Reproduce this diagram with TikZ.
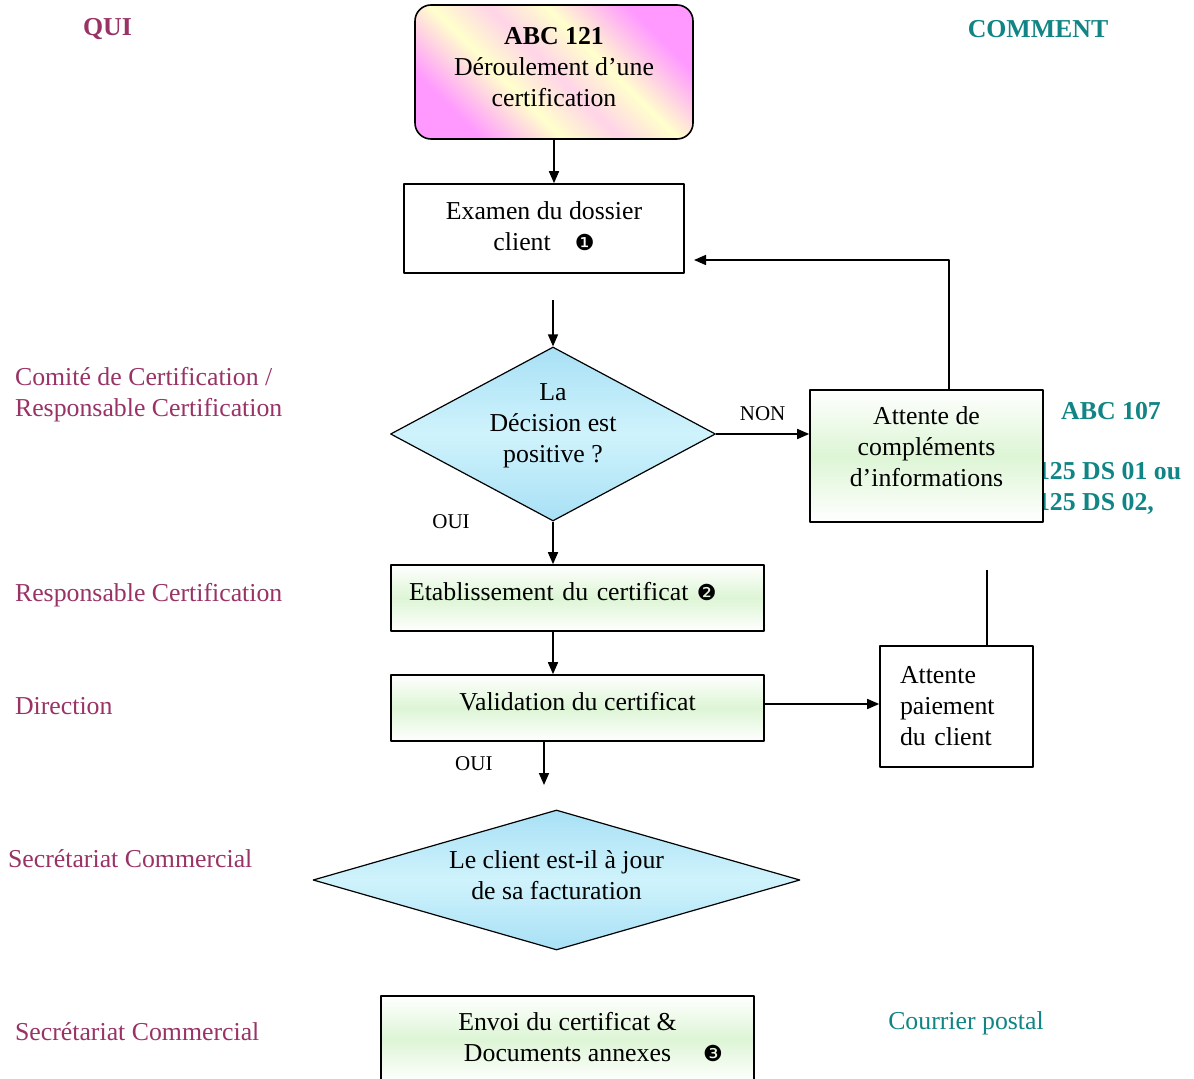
\documentclass[tikz,border=0pt]{standalone}
\usepackage{fontspec}
\setmainfont{Liberation Serif}
\newfontfamily\dingfont{DejaVu Sans}
\usetikzlibrary{shapes.geometric,arrows.meta,positioning}
\definecolor{qui}{HTML}{993366}
\definecolor{comment}{HTML}{118585}
\definecolor{titleyellow}{HTML}{FFFFCC}
\definecolor{titlepink}{HTML}{FFD4E8}
\definecolor{titlemag}{HTML}{FF99FF}
\definecolor{stepgreen}{HTML}{DDF5D5}
\definecolor{askblue}{HTML}{A8E0F5}
\definecolor{askpale}{HTML}{CFF3FC}
\pgfdeclarehorizontalshading{titleshade}{100bp}{color(0bp)=(titlemag); color(26bp)=(titlemag); color(40bp)=(titleyellow); color(50bp)=(titlepink); color(60bp)=(titleyellow); color(74bp)=(titlemag); color(100bp)=(titlemag)}
\newcommand{\dg}[1]{{\dingfont\fontsize{11}{11}\selectfont #1}}
\begin{document}
\begin{tikzpicture}[x=0.5pt,y=-0.5pt,font=\fontsize{12.9}{15.5}\selectfont, line join=round, >={Triangle[length=6pt,width=5pt]},
	box/.style={draw, line width=0.8pt, rectangle, align=center, inner sep=0pt},
	greenbox/.style={box, top color=white, bottom color=white, middle color=stepgreen},
	ask/.style={draw, line width=0.6pt, diamond, align=center, inner sep=0pt, top color=askblue, bottom color=askblue, middle color=askpale},
	link/.style={line width=0.8pt},
	qtext/.style={text=qui, anchor=west, align=left},
	ctext/.style={text=comment, font=\fontsize{12.9}{15.5}\selectfont\bfseries},
	answer/.style={font=\fontsize{10.5}{12}\selectfont}]
			\clip (0,0) rectangle (1194,1079);
			\fill[white] (0,0) rectangle (1194,1079);
			\node[qtext, font=\fontsize{12.9}{15.5}\selectfont\bfseries] (qui) at (76,29) {QUI};
			\node[ctext] (comment) at (1038,29) {COMMENT};
			\node[qtext] (qui1) at (8,395) {Comité de Certification /\\Responsable Certification};
			\node[qtext] (qui2) at (8,595) {Responsable Certification};
			\node[qtext] (qui3) at (8,706) {Direction};
			\node[qtext] (qui4) at (1,859) {Secrétariat Commercial};
			\node[qtext] (qui5) at (8,1032) {Secrétariat Commercial};
			\node[ctext] (abc107) at (1111,411) {ABC 107};
			\node[ctext, anchor=west, align=left] (ds) at (1030,488) {125 DS 01 ou\\125 DS 02,};
			\node[text=comment] (postal) at (966,1023) {Courrier postal};
			\node[box, rounded corners=8pt, minimum width=139pt, minimum height=67pt, shading=titleshade, shading angle=45, text depth=5pt] (title) at (554,72) {\textbf{ABC 121}\\Déroulement d’une\\certification};
			\node[box, minimum width=140pt, minimum height=44.5pt, text depth=2pt] (exam) at (544,228.5) {Examen du dossier\\client\hspace{12pt}\dg{❶}};
			\node[ask, aspect=1.87, minimum width=162.5pt, minimum height=87pt, text depth=10.5pt] (dec) at (553,434) {La\\Décision est\\positive ?};
			\node[greenbox, minimum width=116.5pt, minimum height=66pt, text depth=9.5pt] (compl) at (926.5,456) {Attente de\\compléments\\d’informations};
			\node[greenbox, minimum width=186.5pt, minimum height=33pt, text width=168.5pt, align=left, text depth=7pt] (etab) at (577.5,598) {Etablissement du certificat \dg{❷}};
			\node[greenbox, minimum width=186.5pt, minimum height=33pt, text depth=7pt] (valid) at (577.5,708) {Validation du certificat};
			\node[box, fill=white, minimum width=76.5pt, minimum height=60.5pt, text width=56.5pt, align=left] (paie) at (956.5,706.5) {Attente\\paiement\\du client};
			\node[ask, aspect=3.48, minimum width=243.5pt, minimum height=70pt, text depth=5pt] (fact) at (556.5,880) {Le client est-il à jour\\de sa facturation};
			\node[greenbox, minimum width=186.5pt, minimum height=43pt, text depth=2pt] (envoi) at (567.5,1039) {Envoi du certificat \&\\Documents annexes\rlap{\hspace{16pt}\dg{❸}}};
			\coordinate (from) at (553,300);
			\coordinate (back) at (694,260);
			\coordinate (up) at (987,570);
			\coordinate (down) at (544,785);
			\draw[link,->] (title.south) -- (title.south |- exam.north);
			\draw[link,->] (from) -- (dec.north);
			\draw[link,->] (dec.east) -- (dec.east -| compl.west) node[answer, midway, above=3pt] {NON};
			\draw[link,->] ([xshift=11.25pt]compl.north) |- (back);
			\draw[link,->] (dec.south) -- (dec.south |- etab.north) node[answer, pos=0, xshift=-51pt] {OUI};
			\draw[link,->] (dec.south |- etab.south) -- (dec.south |- valid.north);
			\draw[link,->] ([yshift=2pt]valid.east) -- ([yshift=2pt]valid.east -| paie.west);
			\draw[link] ([xshift=15.25pt]paie.north) -- (up);
			\draw[link,->] (valid.south -| down) -- (down) node[answer, midway, left=22pt] {OUI};
		\end{tikzpicture}
\end{document}
